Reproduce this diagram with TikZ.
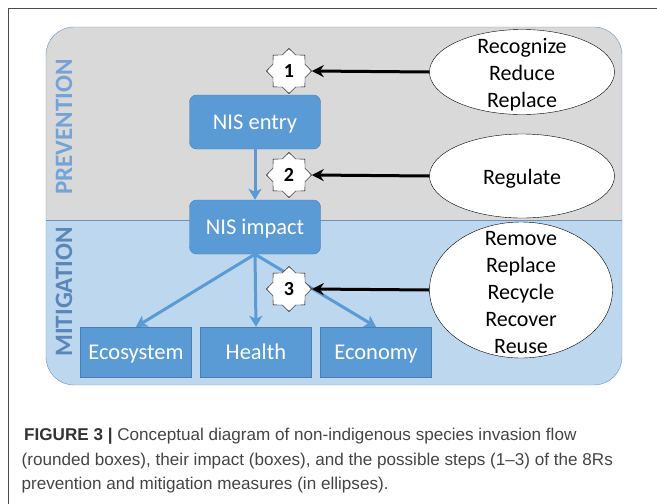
\documentclass[tikz,border=0pt]{standalone}
\usepackage{fontspec}
\setmainfont{Carlito}
\newfontfamily\capfont{Liberation Sans}
\usetikzlibrary{shapes.geometric,arrows.meta}
\definecolor{boxblue}{HTML}{5B9BD5}
\definecolor{boxedge}{HTML}{4A7EB5}
\definecolor{topgray}{HTML}{D9D9D9}
\definecolor{lowblue}{HTML}{BDD7EE}
\definecolor{frameblue}{HTML}{6A93C2}
\definecolor{prevtext}{HTML}{74A3D6}
\definecolor{mitigtext}{HTML}{5A86B8}
\definecolor{captext}{HTML}{444444}
\begin{document}
\begin{tikzpicture}[x=1pt,y=-1pt,
		flowbox/.style={draw=boxedge,fill=boxblue,text=white,rounded corners=7pt,minimum width=131pt,minimum height=54pt,text height=16.5pt,text depth=1.5pt,font=\fontsize{22.5}{24}\selectfont},
		impactbox/.style={draw=boxedge,fill=boxblue,text=white,minimum width=111pt,minimum height=50pt,text height=16.5pt,text depth=1.5pt,font=\fontsize{22.5}{24}\selectfont},
		stepstar/.style={star,star points=8,star point ratio=1.3,draw,fill=white,minimum size=45pt,inner sep=0pt,font=\bfseries\fontsize{20}{20}\selectfont},
		measure/.style={ellipse,draw,fill=white,inner sep=0pt},
		measuretext/.style={align=center,yshift=-3pt,font=\fontsize{22}{27}\selectfont},
		flow/.style={boxblue,line width=3pt,-{Stealth[length=11pt,width=13pt,inset=3pt]}},
		act/.style={black,line width=3pt,-{Stealth[length=12pt,width=12pt]}},
		captionline/.style={anchor=base west,inner sep=0pt,text=captext,font=\capfont\fontsize{17.1}{24}\selectfont}]
			\useasboundingbox (0,0) rectangle (657,504);
			%frame
			\draw[gray!60!black] (657,8) -- (8,8) -- (8,504);
			%background
			\begin{scope}
				\clip[rounded corners=28pt] (46,27) rectangle (622,385);
				\fill[topgray] (46,27) rectangle (622,220);
				\fill[lowblue] (46,220) rectangle (622,385);
			\end{scope}
			\draw[frameblue] (46,220) -- (622,220);
			\draw[frameblue,rounded corners=28pt] (46,27) rectangle (622,385);
			\node[rotate=90,text=prevtext,font=\bfseries\fontsize{25}{25}\selectfont] (prev) at (64,127) {PREVENTION};
			\node[rotate=90,text=mitigtext,font=\bfseries\fontsize{25}{25}\selectfont] (mitig) at (64,292) {MITIGATION};
			%flow
			\node[flowbox] (entry) at (255,122) {NIS entry};
			\node[flowbox] (impact) at (255,227) {NIS impact};
			\node[impactbox] (eco) at (136,352) {Ecosystem};
			\node[impactbox] (health) at (256,352) {Health};
			\node[impactbox] (econ) at (376,352) {Economy};
			\draw[flow] (entry) -- (impact);
			\foreach \t in {eco,health,econ}
				\draw[flow] (impact.south) -- (\t.north);
			%steps
			\node[stepstar] (s1) at (289,71) {1};
			\node[stepstar] (s2) at (289,175) {2};
			\node[stepstar] (s3) at (289,289) {3};
			%measures
			\node[measure,minimum width=185pt,minimum height=85pt,label={[measuretext]center:Recognize\\Reduce\\Replace}] (rec) at (522,72) {};
			\node[measure,minimum width=185pt,minimum height=84pt,label={[measuretext]center:Regulate}] (reg) at (522,176) {};
			\node[measure,minimum width=183pt,minimum height=136pt,label={[measuretext]center:Remove\\Replace\\Recycle\\Recover\\Reuse}] (rem) at (521,290) {};
			\draw[act] (rec.west) -- (s1.east);
			\draw[act] (reg.west) -- (s2.east);
			\draw[act] (rem.west) -- (s3.east);
			%caption
			\node[captionline] (cap1) at (24,440.7) {{\bfseries\color{black!80}FIGURE 3 |} Conceptual diagram of non-indigenous species invasion flow};
			\node[captionline] (cap2) at (21.5,465) {(rounded boxes), their impact (boxes), and the possible steps (1–3) of the 8Rs};
			\node[captionline] (cap3) at (21.5,489) {prevention and mitigation measures (in ellipses).};
		\end{tikzpicture}
\end{document}
